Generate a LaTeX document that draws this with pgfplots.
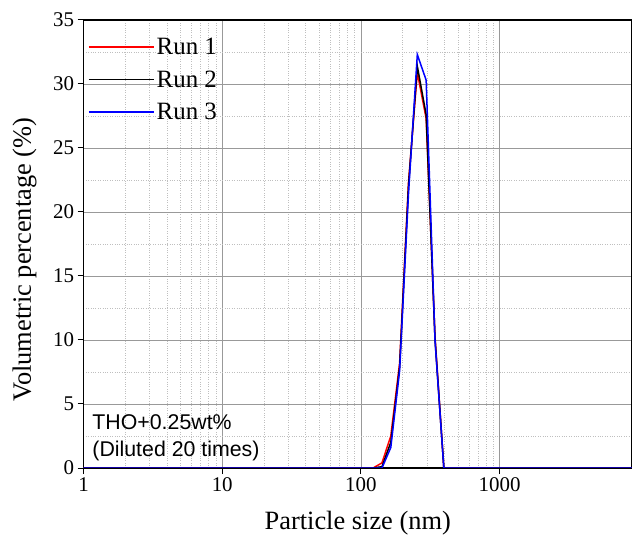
\documentclass[border=0pt]{standalone}
\usepackage{fontspec}
\setmainfont{Liberation Serif}
\newfontfamily\arial{Liberation Sans}
\usepackage{pgfplots}
\pgfplotsset{compat=1.18}
\begin{document}
\begin{tikzpicture}
\begin{axis}[
  scale only axis, width=548.5bp, height=448bp,
  xmode=log, xmin=1, xmax=9000, ymin=0, ymax=35,
  xtick={1,10,100,1000}, xticklabels={1,10,100,1000},
  ytick={0,5,...,35},
  minor ytick={2.5,7.5,...,32.5},
  grid=both,
  major grid style={gray!80, line width=0.8bp},
  minor grid style={gray!50, dotted, line width=0.6bp},
  tick align=outside, xtick pos=left, ytick pos=left,
  major tick length=6bp, minor tick length=0pt,
  tick style={black, line width=1bp},
  axis line style={line width=1.4bp},
  ticklabel style={font=\fontsize{21}{24}\selectfont},
  /pgf/number format/assume math mode=true,
  xlabel={Particle size (nm)}, ylabel={Volumetric percentage (\%)},
  label style={font=\fontsize{26.5}{30}\selectfont},
  xlabel style={at={(axis description cs:0.5,-0.1228)}, anchor=center},
  ylabel style={at={(axis description cs:-0.1076,0.465)}, anchor=center},
  legend style={at={(axis description cs:0,1)}, anchor=north west, yshift=-10bp, draw=none, fill=none,
    font=\fontsize{25}{30}\selectfont, row sep=10.5bp, inner xsep=4.5bp, inner ysep=6bp},
  legend cell align=left,
  legend image code/.code={\draw[#1] (0bp,0bp) -- (60bp,0bp); \path (0bp,0bp) -- (65bp,0bp);},
  every axis plot/.append style={line width=1.5bp},
]
\addplot[red] coordinates {(1,0) (122.4,0) (141.8,0.4) (164.2,2.5) (190.1,8.2) (220.2,22.3) (255.0,30.9) (295.3,27.3) (342.0,10.3) (396.1,0) (9000,0)};
\addlegendentry{Run 1}
\addplot[black] coordinates {(1,0) (122.4,0) (141.8,0.1) (164.2,2.0) (190.1,7.9) (220.2,22.0) (255.0,31.4) (295.3,27.6) (342.0,10.1) (396.1,0) (9000,0)};
\addlegendentry{Run 2}
\addplot[blue] coordinates {(1,0) (141.8,0) (164.2,1.6) (190.1,7.6) (220.2,21.4) (255.0,32.3) (295.3,30.3) (342.0,10.0) (396.1,0) (9000,0)};
\addlegendentry{Run 3}
\node[anchor=west, align=left, inner sep=0pt, font=\arial\fontsize{21.4}{26.7}\selectfont] at (rel axis cs:0.0159,0.0677) {THO+0.25wt\%\\(Diluted 20 times)};
\end{axis}
\pgfresetboundingbox
\path[use as bounding box] ([shift={(-83.5bp,-72bp)}]current axis.south west) rectangle ([shift={(0bp,20bp)}]current axis.north east);
\end{tikzpicture}
\end{document}
